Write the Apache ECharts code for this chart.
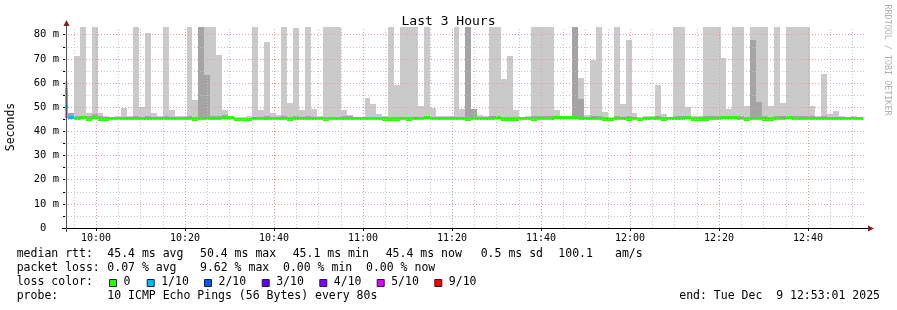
<!DOCTYPE html>
<html><head><meta charset="utf-8">
<script src="https://cdn.jsdelivr.net/npm/echarts@6/dist/echarts.min.js"></script>
<style>html,body{margin:0;padding:0;background:#fff}#c{width:897px;height:310px}</style>
</head><body><div id="c"></div>
<script>
// ---------------- data ----------------
const titleText = 'Last 3 Hours';
const startTime = '09:53:01';
const endTime = '12:53:01';
const firstStepStart = '09:52:20';
const stepSeconds = 80;
const xTickLabels = ['10:00','10:20','10:40','11:00','11:20','11:40','12:00','12:20','12:40'];
const yTickValues = [0,10,20,30,40,50,60,70,80];
const yTickLabels = ['0  ','10 m','20 m','30 m','40 m','50 m','60 m','70 m','80 m'];
const yMaxValue = 83.2;

// outer smoke top (max ping, ms)
const maxVals = [61, 47.6,
 71.4, 83, 47.7, 83, 47.6, 46.5, 45.9, 46.2, 49.6, 46.3,
 83, 50.0, 80.8, 47.7, 46.3, 83, 48.8, 46.2, 46.5, 83,
 53.1, 83, 83, 83, 71.7, 49.0, 46.5, 45.8, 45.8, 46.2,
 83, 49.0, 76.8, 47.4, 46.8, 83, 51.7, 82.7, 48.7, 83,
 49.2, 46.2, 83, 83, 83, 48.7, 46.6, 45.9, 45.9, 54.0,
 51.4, 47.3, 46.3, 83, 59.3, 83, 83, 83, 50.6, 83,
 49.7, 46.5, 46.3, 46.3, 83, 49.2, 83, 49.2, 46.8, 46.3,
 83, 83, 61.8, 71.0, 48.7, 46.0, 46.3, 83, 83, 83,
 83, 48.7, 46.5, 46.2, 83, 62.0, 46.6, 69.7, 83, 48.1,
 46.0, 83, 51.4, 77.9, 47.6, 46.0, 46.3, 46.5, 59.3, 47.3,
 46.0, 83, 83, 50.1, 46.3, 46.3, 83, 83, 83, 70.4,
 49.2, 83, 83, 50.3, 83, 83, 83, 50.6, 83, 51.7,
 83, 83, 83, 83, 50.6, 46.5, 63.9, 47.0, 48.5, 46.5,
 45.8, 46.2, 45.8];

// second smoke layer top (9th ping, ms)
const p9Vals = [58, 47.6,
 46.5, 46.5, 46.3, 47.2, 46.2, 46.0, 45.6, 45.8, 46.0, 45.8,
 46.2, 46.0, 46.2, 46.0, 45.8, 46.3, 46.0, 45.8, 46.0, 46.3,
 46.0, 83, 63.4, 46.5, 46.3, 46.8, 46.0, 45.5, 45.5, 45.6,
 46.0, 46.0, 46.2, 46.0, 46.0, 46.3, 46.0, 46.3, 46.0, 46.2,
 46.0, 45.8, 46.0, 46.0, 46.0, 46.2, 46.2, 45.6, 45.6, 46.0,
 46.0, 46.0, 45.8, 46.0, 46.0, 46.0, 46.0, 46.0, 46.0, 46.2,
 46.0, 45.9, 45.8, 45.8, 46.0, 46.0, 83, 49.2, 46.0, 45.8,
 46.2, 46.2, 46.0, 46.0, 46.0, 45.7, 45.8, 46.2, 46.2, 46.2,
 46.2, 46.2, 46.0, 45.9, 83, 53.5, 46.0, 46.2, 46.2, 46.0,
 45.6, 46.2, 46.0, 46.2, 46.0, 45.6, 45.8, 46.0, 46.2, 46.0,
 45.7, 46.2, 46.2, 46.2, 45.8, 45.8, 46.2, 46.2, 46.2, 46.2,
 46.2, 46.3, 46.2, 46.0, 77.9, 52.1, 46.2, 46.0, 46.2, 46.2,
 46.2, 46.2, 46.2, 46.2, 46.2, 46.0, 46.2, 46.0, 46.0, 45.9,
 45.6, 45.8, 45.6];

// smoke bottom (min ping, ms)
const minVals = [45.6, 45.0,
 44.7, 45.1, 44.4, 45.0, 44.4, 44.4, 44.7, 44.7, 44.7, 44.7,
 44.7, 44.7, 44.7, 44.7, 44.7, 44.7, 44.7, 44.7, 44.7, 44.7,
 44.4, 44.7, 44.7, 44.7, 44.7, 45.2, 45.2, 44.4, 44.4, 44.4,
 44.7, 44.7, 44.7, 44.7, 44.7, 44.7, 44.4, 44.7, 44.7, 44.7,
 44.7, 44.7, 44.4, 44.7, 44.7, 44.7, 44.7, 44.7, 44.7, 44.7,
 44.7, 44.7, 44.4, 44.4, 44.4, 44.7, 44.4, 44.7, 44.7, 45.1,
 44.7, 44.7, 44.7, 44.7, 44.7, 44.7, 44.4, 44.7, 44.7, 44.7,
 44.7, 45.1, 44.4, 44.4, 44.4, 44.7, 44.7, 44.4, 44.7, 44.7,
 44.7, 45.0, 45.0, 45.0, 45.0, 44.7, 44.7, 44.7, 44.7, 44.4,
 44.4, 44.7, 44.7, 44.4, 44.7, 44.4, 44.7, 44.7, 44.7, 44.4,
 44.7, 44.7, 44.7, 45.1, 44.4, 44.4, 44.4, 44.7, 44.7, 45.1,
 45.1, 45.1, 44.7, 44.4, 44.7, 44.7, 44.4, 44.4, 44.7, 44.7,
 45.1, 44.7, 44.7, 44.7, 44.7, 44.7, 44.7, 44.7, 44.7, 44.7,
 44.7, 44.7, 44.7];

// median rtt (ms)
const medianVals = [50.4, 45.6,
 45.2, 45.8, 44.8, 45.6, 44.8, 44.8, 45.2, 45.2, 45.2, 45.2,
 45.2, 45.2, 45.2, 45.2, 45.2, 45.2, 45.2, 45.2, 45.2, 45.2,
 44.8, 45.2, 45.2, 45.2, 45.2, 45.9, 45.9, 44.8, 44.8, 44.8,
 45.2, 45.2, 45.2, 45.2, 45.2, 45.2, 44.8, 45.2, 45.2, 45.2,
 45.2, 45.2, 44.8, 45.2, 45.2, 45.2, 45.2, 45.2, 45.2, 45.2,
 45.2, 45.2, 44.8, 44.8, 44.8, 45.2, 44.8, 45.2, 45.2, 45.8,
 45.2, 45.2, 45.2, 45.2, 45.2, 45.2, 44.8, 45.2, 45.2, 45.2,
 45.2, 45.8, 44.8, 44.8, 44.8, 45.2, 45.2, 44.8, 45.2, 45.2,
 45.2, 45.6, 45.6, 45.6, 45.6, 45.2, 45.2, 45.2, 45.2, 44.8,
 44.8, 45.2, 45.2, 44.8, 45.2, 44.8, 45.2, 45.2, 45.2, 44.8,
 45.2, 45.2, 45.2, 45.8, 44.8, 44.8, 44.8, 45.2, 45.2, 45.8,
 45.8, 45.8, 45.2, 44.8, 45.2, 45.2, 44.8, 44.8, 45.2, 45.2,
 45.8, 45.2, 45.2, 45.2, 45.2, 45.2, 45.2, 45.2, 45.2, 45.2,
 45.2, 45.2, 45.2];

// lost pings out of 10 per step
const lossVals = [1, 1,
 0,0,0,0,0,0,0,0,0,0, 0,0,0,0,0,0,0,0,0,0, 0,0,0,0,0,0,0,0,0,0,
 0,0,0,0,0,0,0,0,0,0, 0,0,0,0,0,0,0,0,0,0, 0,0,0,0,0,0,0,0,0,0,
 0,0,0,0,0,0,0,0,0,0, 0,0,0,0,0,0,0,0,0,0, 0,0,0,0,0,0,0,0,0,0,
 0,0,0,0,0,0,0,0,0,0, 0,0,0,0,0,0,0,0,0,0, 0,0,0,0,0,0,0,0,0,0,
 0,0,0,0,0,0,0,0,0,0, 0,0,0];

const lossLegend = ['0','1/10','2/10','3/10','4/10','5/10','9/10'];
const lossLegendCounts = [0,1,2,3,4,5,9];
const lossColorList = ['#26ff00','#00b8ff','#0059ff','#5e00ff','#7e00ff','#dd00ff','#ff0000'];

const statsMedian = ['median rtt:','45.4 ms avg','50.4 ms max','45.1 ms min','45.4 ms now','0.5 ms sd','100.1','am/s'];
const statsLoss = ['packet loss:','0.07 % avg','9.62 % max','0.00 % min','0.00 % now'];
const probeText = ['probe:','10 ICMP Echo Pings (56 Bytes) every 80s'];
const endText = 'end: Tue Dec  9 12:53:01 2025';
const watermark = 'RRDTOOL / TOBI OETIKER';
const yName = 'Seconds';

// ---------------- helpers ----------------
function toSec(s){const p=s.split(':').map(Number);return p[0]*3600+p[1]*60+(p[2]||0);}
function fmt(v){const h=Math.floor(v/3600),m=Math.floor((v%3600)/60);return String(h).padStart(2,'0')+':'+String(m).padStart(2,'0');}
function lossColor(n){let c=lossColorList[0];for(let i=0;i<lossLegendCounts.length;i++){if(n>=lossLegendCounts[i])c=lossColorList[i];}return c;}

const FONT='"DejaVu Sans Mono", "Liberation Mono", monospace';
const xMin=toSec(startTime), xMax=toSec(endTime), t0=toSec(firstStepStart);
const xTickValues=xTickLabels.map(toSec);
const yMinorTicks=[];for(let v=0;v<=80;v+=5)yMinorTicks.push(v);

const smokeData=maxVals.map((mx,i)=>[t0+i*stepSeconds,t0+(i+1)*stepSeconds,minVals[i],mx,p9Vals[i]]);
const medData=medianVals.map((m,i)=>[t0+i*stepSeconds,t0+(i+1)*stepSeconds,m,lossVals[i]]);

const MINOR={color:'#c4c4c4',type:[1,2],width:1};
const MAJOR={color:'#e39c9c',type:[1,2],width:1};
const gridLines=[];
for(let t=Math.ceil(xMin/300)*300;t<xMax;t+=300){gridLines.push({xAxis:t,lineStyle:(t%1200===0)?MAJOR:MINOR});}
for(let v=5;v<=80;v+=5){gridLines.push({yAxis:v,lineStyle:(v%10===0)?MAJOR:MINOR});}

// layout
const GL=65, GR=31, GT=27, GB=82, W=897, H=310;
const axY=H-GB, axX=GL;

const graphics=[];
function txt(x,y,t,opts){graphics.push(Object.assign({type:'text',x:x,y:y,silent:true,style:{text:t,font:'11.5px '+FONT,fill:'#000',align:'left',verticalAlign:'middle',textAlign:'left',textVerticalAlign:'middle'}},opts||{}));}
// stats lines
const medX=[16.7,107.3,200,292.7,385.7,480.7,558.3,615];
statsMedian.forEach((s,i)=>txt(medX[i],254.3,s));
const lossX=[16.7,107.3,200,283,366];
statsLoss.forEach((s,i)=>txt(lossX[i],268.3,s));
txt(16.7,282.5,'loss color:');
const boxX=[109,146.7,204,261.7,319.3,376.7,434.3];
lossLegend.forEach((s,i)=>{
  graphics.push({type:'rect',silent:true,shape:{x:boxX[i]+0.5,y:279.5,width:7,height:7},style:{fill:lossColorList[i],stroke:'#222',lineWidth:1}});
  txt(boxX[i]+14.5,282.5,s);
});
txt(16.7,296.3,probeText[0]);
txt(107.3,296.3,probeText[1]);
graphics.push({type:'text',x:880,y:296.3,silent:true,style:{text:endText,font:'11.5px '+FONT,fill:'#000',align:'right',textAlign:'right',verticalAlign:'middle',textVerticalAlign:'middle'}});
// y name
graphics.push({type:'text',x:11,y:127,rotation:Math.PI/2,silent:true,style:{text:yName,font:'11.5px '+FONT,fill:'#000',align:'center',textAlign:'center',verticalAlign:'middle',textVerticalAlign:'middle'}});
// watermark
graphics.push({type:'text',x:887,y:60,rotation:-Math.PI/2,silent:true,style:{text:watermark,font:'8.4px '+FONT,fill:'#b0b0b0',align:'center',textAlign:'center',verticalAlign:'middle',textVerticalAlign:'middle'}});
// axes lines + arrows
graphics.push({type:'line',silent:true,z:10,shape:{x1:62,y1:axY+0.5,x2:W-GR+2,y2:axY+0.5},style:{stroke:'#000',lineWidth:1}});
graphics.push({type:'line',silent:true,z:10,shape:{x1:axX+1.5,y1:axY+4,x2:axX+1.5,y2:24},style:{stroke:'#555',lineWidth:1}});
graphics.push({type:'polygon',silent:true,z:11,shape:{points:[[axX-1.5,26],[axX+4.5,26],[axX+1.5,20]]},style:{fill:'#7f1f1f'}});
graphics.push({type:'polygon',silent:true,z:11,shape:{points:[[W-GR+2,axY-2.5],[W-GR+2,axY+3.5],[W-GR+8,axY+0.5]]},style:{fill:'#7f1f1f'}});

const chart=echarts.init(document.getElementById('c'),null,{renderer:'canvas',width:W,height:H});
chart.setOption({
  animation:false,
  backgroundColor:'#ffffff',
  title:{text:titleText,left:'center',top:10,textStyle:{fontFamily:FONT,fontSize:13,fontWeight:'normal',color:'#000'}},
  grid:{left:GL,right:GR,top:GT,bottom:GB,containLabel:false},
  xAxis:{type:'value',min:xMin,max:xMax,
    axisLine:{show:false},
    axisTick:{show:true,customValues:xTickValues,length:3,lineStyle:{color:'#000'}},
    axisLabel:{customValues:xTickValues,formatter:v=>xTickLabels[xTickValues.indexOf(v)]||fmt(v),fontFamily:FONT,fontSize:10,color:'#000',margin:5},
    splitLine:{show:false}},
  yAxis:{type:'value',min:0,max:yMaxValue,
    axisLine:{show:false},
    axisTick:{show:true,customValues:yMinorTicks,length:2,lineStyle:{color:'#000'}},
    axisLabel:{customValues:yTickValues,formatter:v=>yTickLabels[yTickValues.indexOf(v)]||'',fontFamily:FONT,fontSize:10.5,color:'#000',margin:6},
    splitLine:{show:false}},
  series:[
    {type:'custom',name:'smoke',z:1,clip:true,silent:true,data:smokeData,encode:{x:[0,1],y:[2,3,4]},
      renderItem:function(params,api){
        const a=api.coord([api.value(0),api.value(3)]);
        const b=api.coord([api.value(1),api.value(2)]);
        const c=api.coord([api.value(0),api.value(4)]);
        const x0=Math.round(a[0]),x1=Math.round(b[0]);
        const yTop=Math.round(a[1]),yBot=Math.round(b[1]),y9=Math.round(c[1]);
        return {type:'group',children:[
          {type:'rect',shape:{x:x0,y:yTop,width:x1-x0,height:yBot-yTop},style:{fill:'#cacaca'}},
          {type:'rect',shape:{x:x0,y:y9,width:x1-x0,height:yBot-y9},style:{fill:'#a4a4a4'}}
        ]};
      }},
    {type:'line',name:'grid',z:2,silent:true,data:[],
      markLine:{silent:true,symbol:['none','none'],label:{show:false},animation:false,data:gridLines}},
    {type:'custom',name:'median',z:3,clip:true,silent:true,data:medData,encode:{x:[0,1],y:2},
      renderItem:function(params,api){
        const a=api.coord([api.value(0),api.value(2)]);
        const b=api.coord([api.value(1),api.value(2)]);
        const y=Math.round(a[1]-0.5)+0.5;
        return {type:'line',shape:{x1:Math.round(a[0]),y1:y,x2:Math.round(b[0]),y2:y},
          style:{stroke:lossColor(api.value(3)),lineWidth:3,lineCap:'butt'}};
      }}
  ],
  graphic:graphics
});
</script></body></html>
